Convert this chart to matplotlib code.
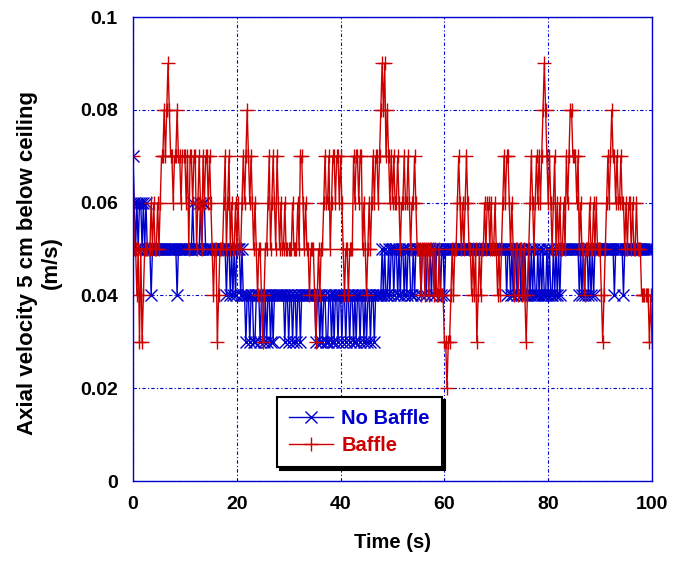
import numpy as np
import matplotlib
matplotlib.use('Agg')
import matplotlib.pyplot as plt
from matplotlib.ticker import FuncFormatter

# readings every 0.25 s, in cm/s (hundredths of m/s), one row = 5 s
no_baffle_rows = [
    [7,6,5,6,5,6,6,5,6,5,6,5,5,5,4,5,5,5,5,5],
    [5,5,5,5,5,5,5,5,5,5,5,5,5,5,4,5,5,5,5,5],
    [5,5,5,5,5,5,6,5,5,5,5,5,6,5,6,6,5,5,5,5],
    [5,5,5,5,5,5,5,5,5,5,5,5,4,5,5,4,5,4,5,4],
    [5,5,5,4,5,4,4,3,4,4,3,4,4,3,3,4,4,4,3,4],
    [4,3,4,3,4,4,3,4,3,4,4,4,4,4,4,4,4,3,4,4],
    [3,4,4,3,4,4,3,4,4,3,4,4,4,4,4,4,4,4,4,4],
    [4,3,4,4,3,4,3,4,4,3,3,4,4,3,4,3,4,4,3,4],
    [4,3,4,4,3,4,4,3,4,4,3,4,3,4,4,3,4,4,3,4],
    [3,4,4,3,4,4,3,4,4,4,4,4,5,4,5,4,4,5,4,5],
    [5,4,5,5,4,5,4,5,5,4,5,4,5,5,4,4,5,4,5,5],
    [5,5,4,5,5,5,4,5,5,5,4,5,5,4,5,5,5,4,5,5],
    [4,5,5,5,5,5,5,5,5,5,5,5,5,5,5,5,5,5,5,5],
    [5,5,5,5,5,5,5,5,5,5,5,5,5,5,5,5,5,5,5,5],
    [5,5,5,5,5,5,5,5,4,5,5,4,5,4,5,5,4,5,5,4],
    [5,4,5,4,4,5,4,5,4,5,4,4,5,4,5,4,5,4,4,5],
    [4,5,4,4,5,4,5,4,5,4,5,5,5,5,5,5,5,5,5,5],
    [5,5,5,5,4,5,4,5,4,5,5,4,5,4,5,4,5,5,5,5],
    [5,5,5,5,5,5,5,5,5,5,5,4,5,5,5,5,5,5,4,5],
    [5,5,5,5,5,5,5,5,5,5,5,5,5,5,5,5,5,5,5,5],
    [5],
]
baffle_rows = [
    [7,5,5,4,5,3,5,3,4,5,5,5,5,5,6,5,6,5,5,6],
    [5,6,7,7,8,7,8,9,8,7,7,6,7,7,8,7,7,6,7,7],
    [7,6,7,5,7,7,6,7,7,5,6,7,6,5,7,6,7,7,6,7],
    [6,5,4,5,5,3,4,5,5,5,6,7,5,6,7,5,6,5,5,6],
    [5,6,5,5,6,7,6,7,8,7,6,7,6,5,6,5,4,5,5,4],
    [3,4,5,5,6,7,5,6,7,6,5,7,6,5,6,5,5,6,5,5],
    [5,5,5,6,5,5,5,6,5,7,7,6,5,6,5,5,4,5,5,5],
    [4,3,4,5,4,5,5,6,7,6,6,7,5,6,7,7,6,7,7,6],
    [7,6,5,4,5,5,4,5,5,5,7,6,7,7,6,7,7,5,6,5],
    [4,5,6,5,6,7,6,7,7,6,7,8,9,8,9,7,8,7,6,7],
    [6,7,6,6,7,6,5,6,6,7,6,6,7,6,5,6,6,7,6,5],
    [5,5,4,5,5,4,5,5,4,5,5,5,4,5,4,4,5,4,4,4],
    [3,3,2,3,3,4,5,4,5,5,6,7,6,5,6,5,6,7,6,5],
    [5,4,5,4,5,3,4,5,4,5,5,6,5,6,6,5,6,5,5,6],
    [5,4,5,4,5,6,7,6,7,7,6,5,6,5,4,5,5,4,5,5],
    [4,5,4,3,4,5,6,7,6,5,6,7,6,7,6,7,8,9,8,7],
    [6,7,6,5,6,7,5,6,5,6,5,5,6,5,7,6,7,8,8,7],
    [7,7,6,7,5,6,5,5,4,5,5,5,6,5,5,6,5,6,5,5],
    [5,4,3,4,5,6,7,6,7,8,7,7,6,7,6,6,7,6,6,5],
    [6,5,6,6,5,6,5,5,6,5,5,5,4,4,4,4,4,4,3,4],
    [3],
]
dt = 0.25
x_ticks = [0, 20, 40, 60, 80, 100]
y_ticks = [0, 0.02, 0.04, 0.06, 0.08, 0.1]

no_baffle = np.concatenate(no_baffle_rows) / 100.0
baffle = np.concatenate(baffle_rows) / 100.0
t = np.arange(len(no_baffle)) * dt

blue = '#0000CC'
red = '#CC0000'

plt.rcParams['font.family'] = ['Liberation Sans', 'DejaVu Sans']
plt.rcParams['font.weight'] = 'bold'

fig = plt.figure(figsize=(6.73, 5.67), dpi=100)
ax = fig.add_axes([133/673, 1 - 481/567, 519/673, 464/567])

ax.plot(t, no_baffle, color=blue, lw=1, marker='x', ms=8, mew=1, label='No Baffle')
ax.plot(t, baffle, color=red, lw=1, marker='+', ms=10, mew=1, label='Baffle')

ax.set_xlim(0, 100)
ax.set_ylim(0, 0.1)
ax.set_xticks(x_ticks)
ax.set_yticks(y_ticks)
ax.yaxis.set_major_formatter(FuncFormatter(lambda v, p: '%g' % round(v, 3)))
ax.tick_params(length=0, labelsize=14, pad=11)
for lab in ax.get_xticklabels() + ax.get_yticklabels():
    lab.set_fontweight('bold')

ax.grid(True, color=blue, lw=0.8, linestyle=(0, (3, 2, 1, 2)))
for s in ax.spines.values():
    s.set_color(blue)
    s.set_linewidth(1)

ax.set_xlabel('Time (s)', fontsize=14.5, fontweight='bold', labelpad=14)
ax.set_ylabel('Axial velocity 5 cm below ceiling\n(m/s)', fontsize=16,
              fontweight='bold')
ax.yaxis.set_label_coords(-0.137, 0.47)

leg = ax.legend(loc='upper left', bbox_to_anchor=(0.277, 0.181), borderaxespad=0,
                fancybox=False, shadow={'color': 'black', 'alpha': 1},
                edgecolor='black', framealpha=1, numpoints=1,
                prop={'size': 14.5, 'weight': 'bold'}, handlelength=2.2,
                handletextpad=0.4, borderpad=0.6, labelspacing=0.4)
leg.get_frame().set_linewidth(1.5)
for txt, c in zip(leg.get_texts(), [blue, red]):
    txt.set_color(c)

fig.savefig('out.png', dpi=100)
